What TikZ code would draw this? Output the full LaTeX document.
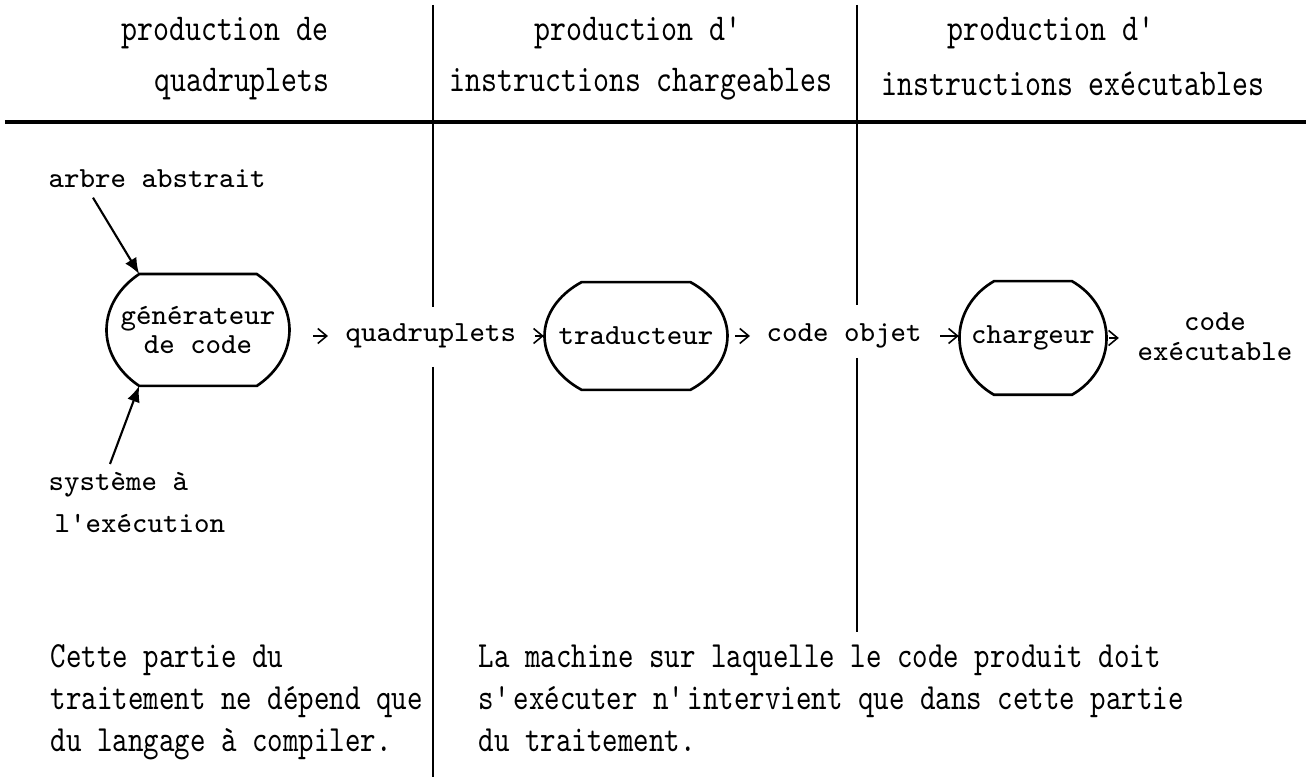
\documentclass[tikz,border=0pt]{standalone}
\usepackage{fontspec}
\newfontfamily\condmono[FakeStretch=0.8]{lmmono10-regular.otf}
\usetikzlibrary{arrows.meta,positioning,calc}
\newcommand\apos{\textquotesingle}
% outline of a stage: flat top and bottom, bulging sides
\newcommand\podshape[4]{%
  \draw[pod] ([shift={(#4:#2 and #3)}]#1.center)
    arc[start angle=#4, end angle=-#4, x radius=#2, y radius=#3]
    -- ([shift={(180+#4:#2 and #3)}]#1.center)
    arc[start angle=180+#4, end angle=180-#4, x radius=#2, y radius=#3] -- cycle;}
\tikzset{
  txt/.style={font=\ttfamily\fontsize{8.3}{8.2}\selectfont, inner sep=0pt},
  pbox/.style={txt, align=center, minimum height=11mm},
  head/.style={font=\condmono\fontsize{10.8}{12}\selectfont, inner sep=0pt},
  note/.style={font=\condmono\fontsize{10.5}{11.95}\selectfont, inner sep=0pt, align=left, anchor=base west},
  pod/.style={line width=0.75pt},
  rule/.style={line width=0.6pt},
  small/.style={-{Straight Barb[length=0.9mm,width=1.5mm]}, line width=0.45pt},
  feed/.style={-{Latex[length=1.6mm,width=1.3mm]}, line width=0.6pt}
}

\begin{document}
\begin{tikzpicture}[x=0.1mm,y=-0.1mm]
\useasboundingbox (0,0) rectangle (1311,777);
% column heads
\node[head] (h1a) at (225,33) {production de};
\node[head] (h1b) at (242,84) {quadruplets};
\node[head] (h2a) at (640,33) {production d\apos};
\node[head] (h2b) at (641,84) {instructions chargeables};
\node[head] (h3a) at (1053,33) {production d\apos};
\node[head] (h3b) at (1073,84) {instructions exécutables};
\draw[line width=0.9pt] (5,122) -- (1306,122);
\draw[rule] (433,5) -- (433,307) (433,367) -- (433,777);
\draw[rule] (857,5) -- (857,305) (857,358) -- (857,632);

% stages
\node[pbox, minimum width=18.3mm] (gen) at (198,330) {générateur\\de code};
\node[pbox, minimum width=18.3mm] (trad) at (636,336) {traducteur};
\node[pbox, minimum width=14.7mm] (charg) at (1033,338) {chargeur};
\podshape{gen}{9.15mm}{7.3mm}{50}
\podshape{trad}{9.15mm}{6.7mm}{53.5}
\podshape{charg}{7.35mm}{6.7mm}{58}
\coordinate (gentl) at ([shift={(130:9.15mm and 7.3mm)}]gen.center);
\coordinate (genbl) at ([shift={(230:9.15mm and 7.3mm)}]gen.center);

% what flows between them
\node[txt, anchor=west] (quad) at (345,336) {quadruplets};
\node[txt, anchor=west] (obj) at (766,336) {code objet};
\node[txt, align=center, font=\ttfamily\fontsize{8.3}{8.5}\selectfont] (exe) at (1215,337) {code\\exécutable};
\draw[small, shorten <=2.3mm, shorten >=1.7mm] (gen.east |- quad.west) -- (quad.west);
\draw[small, shorten <=1.8mm] (quad.east) -- (quad.east -| trad.west);
\draw[small, shorten <=0.7mm, shorten >=1.6mm] (trad.east) -- (obj.west);
\draw[small, shorten <=1.8mm] (obj.east) -- (obj.east -| charg.west);
\draw[small, shorten <=0.2mm, shorten >=1.8mm] (charg.east) -- (charg.east -| exe.west);

% inputs of the generator
\node[txt, anchor=west] (arbre) at (48,179) {arbre abstrait};
\node[txt, anchor=north west, align=left, font=\ttfamily\fontsize{8.3}{12}\selectfont] (sys) at (48,472) {système à\\\hspace{0.6mm}l\apos exécution};
\draw[feed] ([xshift=4.5mm,yshift=-0.9mm]arbre.south west) -- (gentl);
\draw[feed] ([xshift=6.2mm,yshift=0.8mm]sys.north west) -- (genbl);

% remarks
\node[note] (left) at (50,752) {Cette partie du\\traitement ne dépend que\\du langage à compiler.};
\node[note] (right) at (478,752) {La machine sur laquelle le code produit doit\\s\apos exécuter n\apos intervient que dans cette partie\\du traitement.};
\end{tikzpicture}
\end{document}
